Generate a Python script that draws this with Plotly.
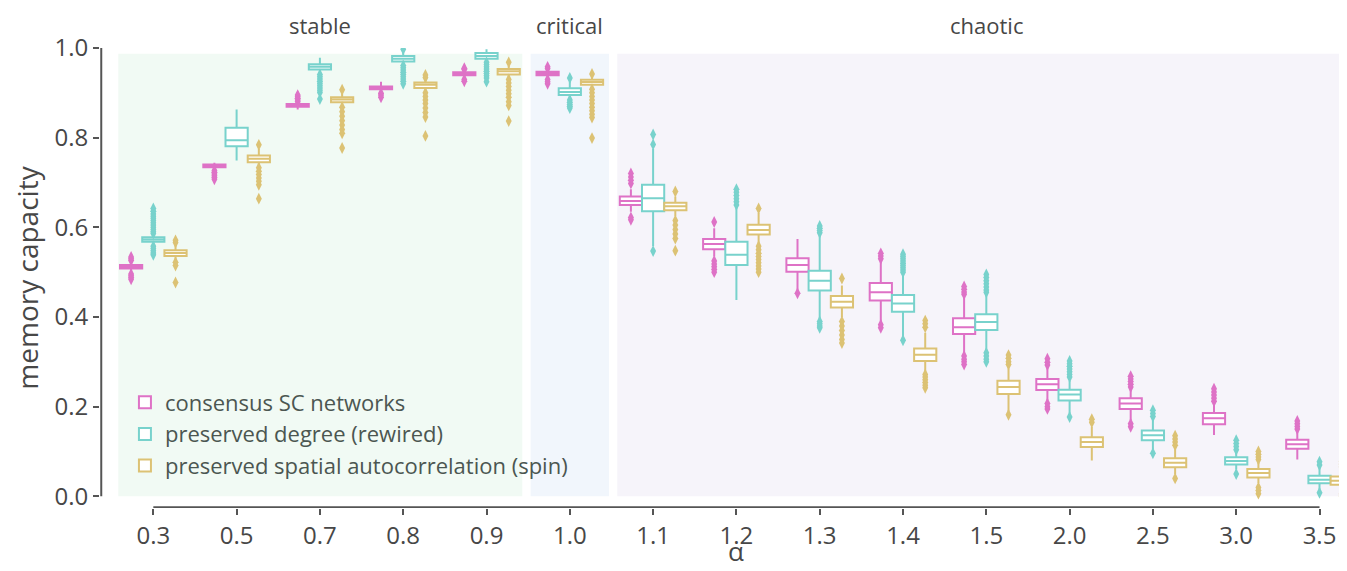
import plotly.graph_objects as go

# alpha values (categories on the x axis)
alpha = ["0.3", "0.5", "0.7", "0.8", "0.9", "1.0", "1.1", "1.2",
         "1.3", "1.4", "1.5", "2.0", "2.5", "3.0", "3.5"]

# consensus SC networks
cons_q1 = [0.508, 0.734, 0.869, 0.908, 0.939, 0.939, 0.650, 0.551, 0.501, 0.437, 0.362, 0.237, 0.195, 0.161, 0.106]
cons_med = [0.512, 0.737, 0.872, 0.911, 0.943, 0.943, 0.659, 0.563, 0.516, 0.455, 0.377, 0.250, 0.207, 0.174, 0.116]
cons_q3 = [0.516, 0.740, 0.875, 0.914, 0.946, 0.947, 0.669, 0.574, 0.531, 0.476, 0.397, 0.262, 0.219, 0.186, 0.126]
cons_lo = [0.500, 0.731, 0.863, 0.903, 0.934, 0.934, 0.635, 0.535, 0.461, 0.390, 0.318, 0.215, 0.170, 0.137, 0.082]
cons_hi = [0.522, 0.744, 0.877, 0.925, 0.950, 0.951, 0.685, 0.598, 0.574, 0.525, 0.447, 0.288, 0.238, 0.205, 0.145]
cons_out = [
    [0.526, 0.530, 0.534, 0.496, 0.492, 0.488, 0.484],
    [0.727, 0.723, 0.719, 0.715, 0.711, 0.707],
    [0.880, 0.884, 0.888, 0.892, 0.895],
    [0.899, 0.895, 0.890],
    [0.955, 0.952, 0.930, 0.926],
    [0.958, 0.954, 0.930, 0.925, 0.920],
    [0.720, 0.712, 0.705, 0.698, 0.622, 0.617],
    [0.612, 0.525, 0.518, 0.512, 0.506, 0.500],
    [0.453],
    [0.542, 0.536, 0.530, 0.383, 0.376],
    [0.468, 0.462, 0.456, 0.451, 0.313, 0.306, 0.300, 0.294],
    [0.307, 0.299, 0.293, 0.207, 0.200, 0.195],
    [0.268, 0.262, 0.256, 0.250, 0.244, 0.162, 0.155],
    [0.240, 0.233, 0.226, 0.219, 0.212],
    [0.168, 0.162, 0.156, 0.150],
]

# preserved degree (rewired)
rew_q1 = [0.568, 0.781, 0.952, 0.970, 0.976, 0.895, 0.636, 0.516, 0.459, 0.412, 0.371, 0.214, 0.125, 0.071, 0.029]
rew_med = [0.573, 0.794, 0.958, 0.976, 0.982, 0.902, 0.665, 0.539, 0.481, 0.430, 0.389, 0.227, 0.136, 0.079, 0.037]
rew_q3 = [0.578, 0.822, 0.964, 0.982, 0.989, 0.910, 0.695, 0.568, 0.503, 0.449, 0.406, 0.238, 0.147, 0.087, 0.046]
rew_lo = [0.562, 0.749, 0.945, 0.965, 0.972, 0.888, 0.558, 0.438, 0.395, 0.357, 0.325, 0.185, 0.105, 0.060, 0.015]
rew_hi = [0.582, 0.863, 0.978, 0.990, 0.997, 0.925, 0.775, 0.645, 0.585, 0.495, 0.450, 0.258, 0.170, 0.100, 0.065]
rew_out = [
    [0.586, 0.590, 0.595, 0.600, 0.605, 0.610, 0.615, 0.620, 0.625, 0.630, 0.636, 0.642,
     0.558, 0.553, 0.548, 0.543, 0.539],
    [],
    [0.941, 0.936, 0.931, 0.926, 0.921, 0.916, 0.911, 0.906, 0.901, 0.886],
    [0.997, 0.961, 0.956, 0.951, 0.946, 0.941, 0.936, 0.931, 0.926, 0.920],
    [0.968, 0.963, 0.958, 0.953, 0.948, 0.943, 0.938, 0.933, 0.925],
    [0.933, 0.884, 0.879, 0.874, 0.870, 0.866],
    [0.807, 0.785, 0.547],
    [0.685, 0.678, 0.671, 0.664, 0.657, 0.650],
    [0.603, 0.598, 0.593, 0.588, 0.390, 0.385, 0.380, 0.376],
    [0.540, 0.535, 0.530, 0.525, 0.520, 0.515, 0.510, 0.505, 0.500, 0.348],
    [0.495, 0.488, 0.481, 0.474, 0.467, 0.460, 0.455, 0.320, 0.313, 0.306, 0.300],
    [0.302, 0.296, 0.290, 0.284, 0.278, 0.272, 0.266, 0.177],
    [0.192, 0.185, 0.178, 0.096],
    [0.125, 0.118, 0.111, 0.104, 0.050],
    [0.077, 0.070, 0.008],
]

# preserved spatial autocorrelation (spin)
spin_q1 = [0.536, 0.745, 0.879, 0.911, 0.941, 0.918, 0.638, 0.584, 0.421, 0.302, 0.228, 0.110, 0.065, 0.042, 0.026]
spin_med = [0.543, 0.753, 0.885, 0.918, 0.948, 0.924, 0.647, 0.594, 0.434, 0.316, 0.244, 0.121, 0.075, 0.052, 0.035]
spin_q3 = [0.549, 0.760, 0.890, 0.923, 0.953, 0.929, 0.655, 0.606, 0.447, 0.330, 0.258, 0.132, 0.085, 0.061, 0.044]
spin_lo = [0.528, 0.738, 0.872, 0.905, 0.935, 0.912, 0.625, 0.565, 0.400, 0.278, 0.190, 0.080, 0.050, 0.030, 0.015]
spin_hi = [0.562, 0.775, 0.898, 0.930, 0.960, 0.935, 0.669, 0.632, 0.470, 0.365, 0.285, 0.155, 0.105, 0.075, 0.060]
spin_out = [
    [0.571, 0.566, 0.522, 0.515, 0.477],
    [0.784, 0.733, 0.725, 0.718, 0.710, 0.703, 0.695, 0.664],
    [0.907, 0.868, 0.858, 0.848, 0.838, 0.828, 0.818, 0.810, 0.777],
    [0.940, 0.934, 0.900, 0.892, 0.884, 0.876, 0.866, 0.856, 0.846, 0.804],
    [0.968, 0.930, 0.922, 0.914, 0.906, 0.898, 0.890, 0.880, 0.872, 0.837],
    [0.942, 0.908, 0.900, 0.892, 0.884, 0.876, 0.868, 0.860, 0.852, 0.845, 0.799],
    [0.680, 0.615, 0.605, 0.595, 0.585, 0.575, 0.548],
    [0.642, 0.558, 0.550, 0.542, 0.535, 0.528, 0.521, 0.514, 0.507, 0.500],
    [0.486, 0.390, 0.380, 0.370, 0.360, 0.350, 0.342],
    [0.392, 0.385, 0.377, 0.272, 0.266, 0.260, 0.254, 0.248, 0.242],
    [0.315, 0.308, 0.300, 0.294, 0.182],
    [0.172, 0.165],
    [0.135, 0.128, 0.121, 0.114, 0.040],
    [0.100, 0.094, 0.088, 0.082, 0.020, 0.013, 0.006],
    [0.078, 0.072, 0.066, 0.006, 0.001],
]

# dynamical regimes: label, span on the category axis, label position, fill
regimes = [
    ("stable", -0.42, 4.43, 2, "#f1faf4"),
    ("critical", 4.53, 5.47, 5, "#f1f6fc"),
    ("chaotic", 5.57, 14.6, 10, "#f6f4fa"),
]

FONT = "'Open Sans', Lato, sans-serif"
AXIS_COLOR = "#555555"
TEXT_COLOR = "#474747"

series = [
    ("consensus SC networks", "#de72c6",
     cons_q1, cons_med, cons_q3, cons_lo, cons_hi, cons_out),
    ("preserved degree (rewired)", "#78d2cc",
     rew_q1, rew_med, rew_q3, rew_lo, rew_hi, rew_out),
    ("preserved spatial autocorrelation (spin)", "#dcc274",
     spin_q1, spin_med, spin_q3, spin_lo, spin_hi, spin_out),
]

fig = go.Figure()
for name, color, q1, med, q3, lo, hi, out in series:
    fig.add_trace(go.Box(
        name=name, x=alpha, y=out,
        q1=q1, median=med, q3=q3, lowerfence=lo, upperfence=hi,
        boxpoints="outliers", jitter=0, pointpos=0,
        marker=dict(symbol="diamond-tall", size=8.5, color=color,
                    line=dict(width=0)),
        line=dict(color=color, width=2),
        fillcolor="white", whiskerwidth=0,
        hoverinfo="skip",
    ))

shapes = []
for label, x0, x1, mid, fill in regimes:
    shapes.append(dict(type="rect", xref="x", yref="y", x0=x0, x1=x1,
                       y0=0, y1=0.987, fillcolor=fill, line_width=0,
                       layer="below"))
# trimmed spines
shapes.append(dict(type="line", xref="paper", yref="y", x0=0.001, x1=0.001,
                   y0=0, y1=1.0, line=dict(color=AXIS_COLOR, width=2)))
shapes.append(dict(type="line", xref="x", yref="y", x0=0, x1=len(alpha) - 1,
                   y0=-0.0245, y1=-0.0245, line=dict(color=AXIS_COLOR, width=2)))

annotations = []
for label, x0, x1, mid, fill in regimes:
    annotations.append(dict(text=label, x=mid, xref="x", y=1.05, yref="paper",
                            showarrow=False, yanchor="middle",
                            font=dict(size=22, color=TEXT_COLOR, family=FONT)))
annotations.append(dict(text="α", x=7, xref="x", y=-0.136, yref="paper",
                        showarrow=False, yanchor="bottom",
                        font=dict(size=26, color=TEXT_COLOR, family=FONT)))

# the page body adds an 8px margin, so the figure is 8px smaller than the window
fig.update_layout(
    width=1339, height=563,
    margin=dict(l=92, r=0, t=40, b=63),
    paper_bgcolor="white", plot_bgcolor="white",
    boxmode="group", boxgap=0.2, boxgroupgap=0.0,
    font=dict(family=FONT, color=TEXT_COLOR),
    shapes=shapes, annotations=annotations,
    legend=dict(x=0.02, y=0.275, xanchor="left", yanchor="top",
                bgcolor="rgba(0,0,0,0)", traceorder="normal",
                font=dict(size=22, color="#4b5651", family=FONT),
                tracegroupgap=0),
    xaxis=dict(type="category", range=[-0.64, 14.33],
               showline=False, showgrid=False, zeroline=False,
               ticks="outside", ticklen=6, tickwidth=2, tickcolor=AXIS_COLOR,
               tickfont=dict(size=24, color=TEXT_COLOR, family=FONT)),
    yaxis=dict(range=[-0.026, 1.0], tickvals=[0, 0.2, 0.4, 0.6, 0.8, 1.0],
               tickformat=".1f", showline=False, showgrid=False, zeroline=False,
               ticks="outside", ticklen=6, tickwidth=2, tickcolor=AXIS_COLOR,
               tickfont=dict(size=24, color=TEXT_COLOR, family=FONT),
               title=dict(text="memory capacity", standoff=10,
                          font=dict(size=28, color=TEXT_COLOR, family=FONT))),
)

fig.write_html("out.html")
